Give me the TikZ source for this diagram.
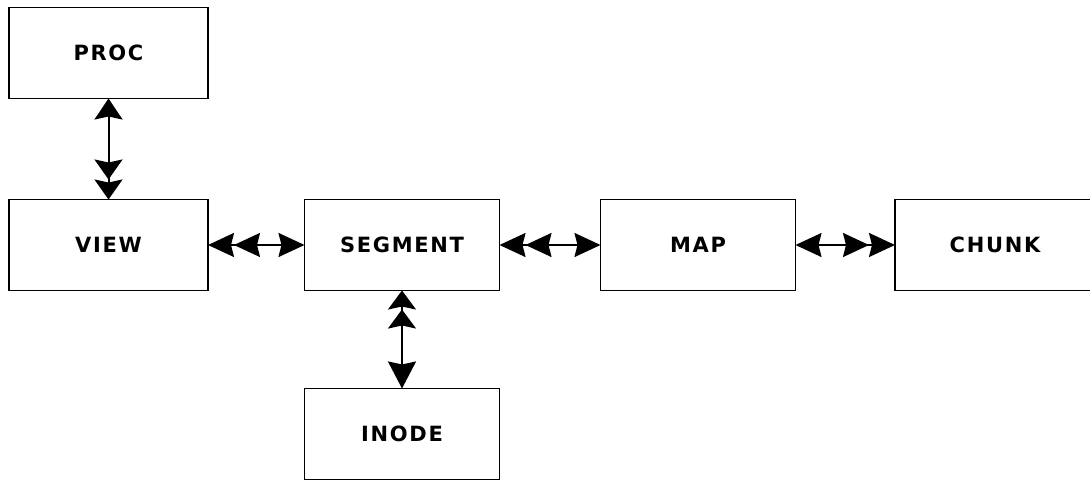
\documentclass[tikz,border=0pt]{standalone}
\usepackage{fontspec}
\setmainfont{DejaVu Sans}
\usetikzlibrary{arrows.meta}
\newfontfamily\boxfont[LetterSpace=8]{DejaVu Sans Bold}
\begin{document}
\begin{tikzpicture}[x=1pt,y=-1pt,
  objbox/.style={draw, line width=1.8pt, minimum width=195pt, minimum height=91pt,
                 inner sep=0pt, outer sep=0pt, font=\boxfont\fontsize{21}{24}\selectfont},
  hhead/.tip={Stealth[length=26pt,width=24pt,inset=3pt]},
  vhead/.tip={Stealth[length=21pt,width=28pt,inset=3pt]},
  link/.style={line width=2pt}]
\useasboundingbox[fill=white] (0,0) rectangle (1090,486);
\node[objbox, minimum width=199pt] (proc)  at (108.5,53)  {PROC};
\node[objbox, minimum width=199pt] (view)  at (108.5,245) {VIEW};
\node[objbox] (segment) at (402,245) {SEGMENT};
\node[objbox] (map)     at (698,245) {MAP};
\node[objbox, minimum width=200pt] (chunk) at (995,245) {CHUNK};
\node[objbox] (inode)   at (402,434) {INODE};
% one-to-many links: the doubled head marks the "many" side
\draw[link, {vhead[]}-{vhead[length=20pt]vhead[length=20pt]}] (proc.south) -- (view.north);
\draw[link, {hhead[]hhead[]}-{hhead[]}] (view.east) -- (segment.west);
\draw[link, {hhead[]hhead[]}-{hhead[]}] (segment.east) -- (map.west);
\draw[link, {hhead[]}-{hhead[]hhead[]}] (map.east) -- (chunk.west);
\draw[link, {vhead[length=19pt]vhead[length=19pt]}-{vhead[length=27pt]}] (segment.south) -- (inode.north);
\end{tikzpicture}
\end{document}
